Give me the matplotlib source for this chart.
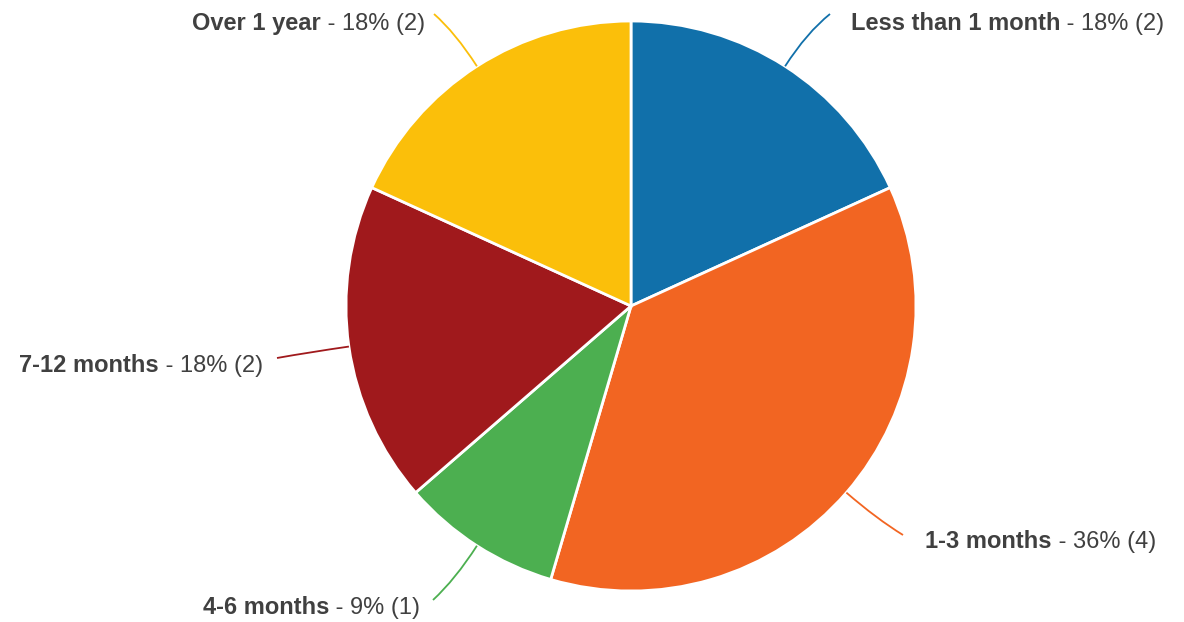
import numpy as np
import matplotlib.pyplot as plt
from matplotlib.path import Path
from matplotlib.patches import PathPatch

plt.rcParams['font.family'] = ['Liberation Sans', 'DejaVu Sans']

# answers to "how long" question
labels = ['Less than 1 month', '1-3 months', '4-6 months', '7-12 months', 'Over 1 year']
counts = [2, 4, 1, 2, 2]
colors = ['#1170aa', '#f26522', '#4caf50', '#a0191c', '#fbbf0a']

W, H = 1184, 622
cx, cy, R = 631, H - 306, 285

# label anchor (x, baseline y, pixels from top), side, and leader line end point
label_pos = [(851, 30, 'left'), (925, 548, 'left'), (420, 614, 'right'),
             (263, 372, 'right'), (425, 30, 'right')]
leader_end = [(830, 14), (903, 535), (433, 600), (277, 358), (434, 14)]

fig = plt.figure(figsize=(W / 100, H / 100), dpi=100)
ax = fig.add_axes([0, 0, 1, 1])

wedges, _ = ax.pie(counts, colors=colors, center=(cx, cy), radius=R,
                   startangle=90, counterclock=False,
                   wedgeprops=dict(edgecolor='white', linewidth=2))
# pie() sets its own limits, so put the pixel frame back afterwards
ax.set_xlim(0, W)
ax.set_ylim(0, H)
ax.set_aspect('equal')
ax.axis('off')

total = sum(counts)
txt_col = '#404040'
fs = 17
renderer = fig.canvas.get_renderer()

for w, lab, n, (lx, ly, side), (ex, ey) in zip(wedges, labels, counts, label_pos, leader_end):
    mid = np.deg2rad((w.theta1 + w.theta2) / 2)
    d = np.array([np.cos(mid), np.sin(mid)])
    p0 = np.array([cx, cy]) + R * d
    p1 = np.array([cx, cy]) + (R + 40) * d
    p2 = np.array([ex, H - ey])
    path = Path([p0, p1, p2], [Path.MOVETO, Path.CURVE3, Path.CURVE3])
    ax.add_patch(PathPatch(path, fill=False, edgecolor=w.get_facecolor(), lw=1.3))

    pct = f' - {round(100 * n / total)}% ({n})'
    if side == 'left':
        t = ax.text(lx, H - ly, lab, fontsize=fs, fontweight='bold', color=txt_col,
                    ha='left', va='baseline')
        bb = t.get_window_extent(renderer)
        ax.text(bb.x1, H - ly, pct, fontsize=fs, color=txt_col, ha='left', va='baseline')
    else:
        t = ax.text(lx, H - ly, pct, fontsize=fs, color=txt_col, ha='right', va='baseline')
        bb = t.get_window_extent(renderer)
        ax.text(bb.x0, H - ly, lab, fontsize=fs, fontweight='bold', color=txt_col,
                ha='right', va='baseline')

fig.savefig('out.png', dpi=100)
